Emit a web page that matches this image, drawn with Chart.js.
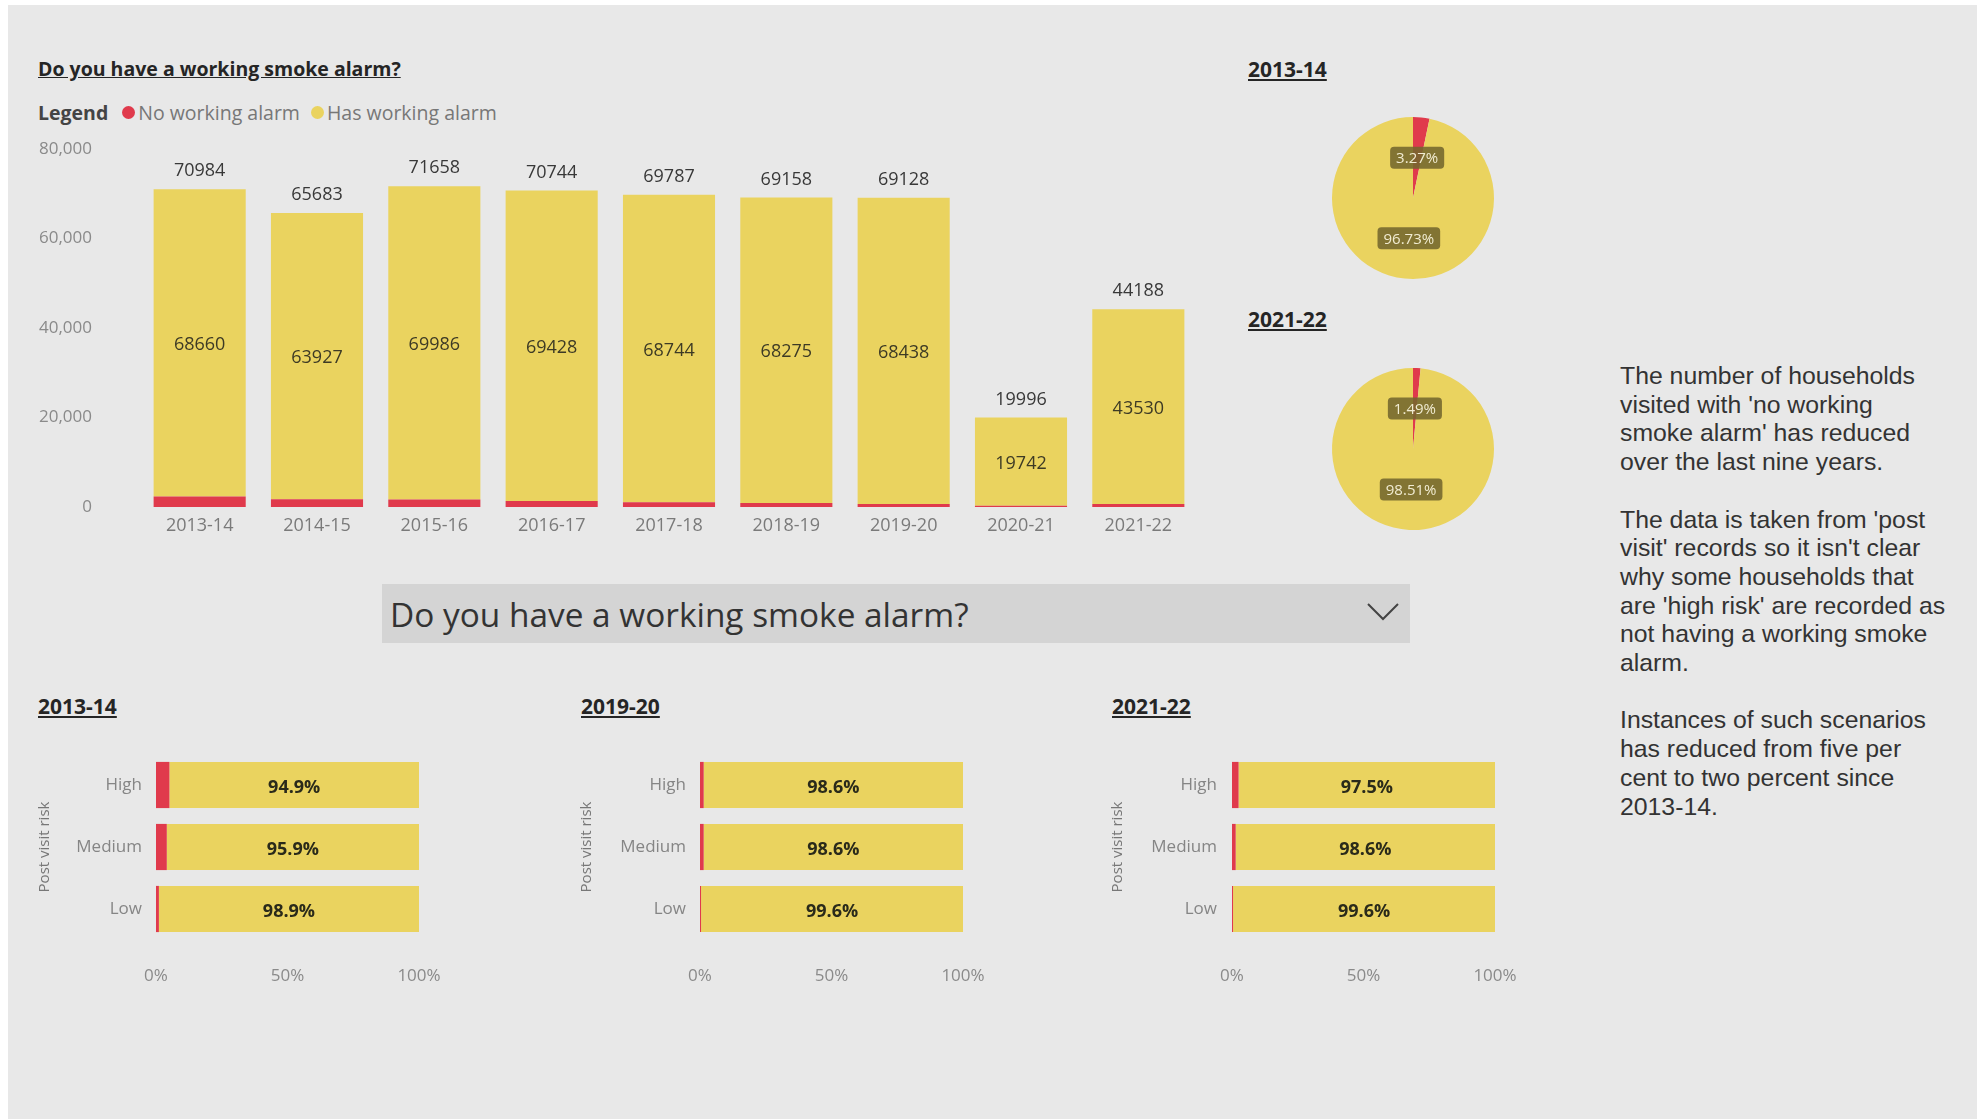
<!DOCTYPE html>
<html lang="en">
<head>
<meta charset="UTF-8">
<title>Do you have a working smoke alarm?</title>
<script src="https://cdn.jsdelivr.net/npm/chart.js"></script>
<style>
  body { margin: 0; background: #fff; font-family: "Open Sans", sans-serif; }
  #page { position: absolute; left: 8px; top: 5px; width: 1969px; height: 1114px; background: #e8e8e8; }
  .abs { position: absolute; }
  .head { font-weight: bold; font-size: 21px; color: #252525; text-decoration: underline; line-height: 26px; white-space: nowrap; }
  #legend { left: 38px; top: 100px; font-size: 19.5px; line-height: 26px; color: #777; white-space: nowrap; }
  #legend b { color: #444; margin-right: 14px; }
  .dot { display: inline-block; width: 13px; height: 13px; border-radius: 50%; margin-right: 3px; vertical-align: 1px; }
  #slicer { left: 382px; top: 584px; width: 1028px; height: 59px; background: #d4d4d4; }
  #slicer span { position: absolute; left: 8px; top: 9px; font-size: 33.4px; line-height: 42px; color: #333; white-space: nowrap; }
  #slicer svg { position: absolute; right: 10px; top: 18px; }
  #notes { left: 1620px; top: 362px; width: 350px; font-family: "Liberation Sans", Arial, sans-serif; font-size: 24.8px; line-height: 28.7px; color: #333; white-space: nowrap; }
  #notes p { margin: 0 0 28.7px 0; }
</style>
</head>
<body>
<div id="page"></div>

<div class="abs head" style="left:38px;top:56px;font-size:19.5px">Do you have a working smoke alarm?</div>
<div id="legend" class="abs"><b>Legend</b><span class="dot" style="background:#e03a4c"></span>No working alarm <span class="dot" style="background:#ead35f;margin-left:6px"></span>Has working alarm</div>
<div class="abs" style="left:20px;top:130px;width:1200px;height:420px"><canvas id="mainChart"></canvas></div>

<div class="abs head" style="left:1248px;top:56px">2013-14</div>
<div class="abs" style="left:1313px;top:98px;width:200px;height:200px"><canvas id="pie1"></canvas></div>
<div class="abs head" style="left:1248px;top:306px">2021-22</div>
<div class="abs" style="left:1313px;top:349px;width:200px;height:200px"><canvas id="pie2"></canvas></div>

<div id="slicer" class="abs"><span>Do you have a working smoke alarm?</span>
  <svg width="34" height="20" viewBox="0 0 34 20"><polyline points="2,2 17,17 32,2" fill="none" stroke="#444" stroke-width="2"/></svg>
</div>

<div class="abs head" style="left:38px;top:693px">2013-14</div>
<div class="abs head" style="left:581px;top:693px">2019-20</div>
<div class="abs head" style="left:1112px;top:693px">2021-22</div>
<div class="abs" style="left:30px;top:730px;width:420px;height:270px"><canvas id="risk1"></canvas></div>
<div class="abs" style="left:574px;top:730px;width:420px;height:270px"><canvas id="risk2"></canvas></div>
<div class="abs" style="left:1106px;top:730px;width:420px;height:270px"><canvas id="risk3"></canvas></div>

<div id="notes" class="abs">
  <p>The number of households<br>visited with 'no working<br>smoke alarm' has reduced<br>over the last nine years.</p>
  <p>The data is taken from 'post<br>visit' records so it isn't clear<br>why some households that<br>are 'high risk' are recorded as<br>not having a working smoke<br>alarm.</p>
  <p>Instances of such scenarios<br>has reduced from five per<br>cent to two percent since<br>2013-14.</p>
</div>

<script>
  // data
  const years = ["2013-14", "2014-15", "2015-16", "2016-17", "2017-18", "2018-19", "2019-20", "2020-21", "2021-22"];
  const totals = [70984, 65683, 71658, 70744, 69787, 69158, 69128, 19996, 44188];
  const hasAlarm = [68660, 63927, 69986, 69428, 68744, 68275, 68438, 19742, 43530];
  const noAlarm = [2324, 1756, 1672, 1316, 1043, 883, 690, 254, 658];
  const yTicks = [0, 20000, 40000, 60000, 80000];

  const pie1314 = [3.27, 96.73];
  const pie2122 = [1.49, 98.51];

  const riskLevels = ["High", "Medium", "Low"];
  const risk1314No = [5.1, 4.1, 1.1];
  const risk1314Has = [94.9, 95.9, 98.9];
  const risk1920No = [1.4, 1.4, 0.4];
  const risk1920Has = [98.6, 98.6, 99.6];
  const risk2122No = [2.5, 1.4, 0.4];
  const risk2122Has = [97.5, 98.6, 99.6];

  const RED = "#e03a4c";
  const YELLOW = "#ead35f";
  Chart.defaults.font.family = "'Open Sans', sans-serif";
  Chart.defaults.animation = false;
  Chart.defaults.plugins.legend.display = false;
  Chart.defaults.plugins.tooltip.enabled = false;

  // totals above the stack and the yellow value in the middle
  const stackLabels = {
    id: "stackLabels",
    afterDatasetsDraw(chart) {
      const ctx = chart.ctx;
      const yellowBars = chart.getDatasetMeta(1).data;
      ctx.save();
      ctx.textAlign = "center";
      ctx.textBaseline = "middle";
      ctx.font = "18px 'Open Sans', sans-serif";
      yellowBars.forEach((bar, i) => {
        ctx.fillStyle = "#383838";
        ctx.fillText(totals[i], bar.x, bar.y - 18);
        ctx.fillStyle = "#3d3a25";
        ctx.fillText(hasAlarm[i], bar.x, (bar.y + bar.base) / 2 + 2);
      });
      ctx.restore();
    }
  };

  new Chart(document.getElementById("mainChart"), {
    type: "bar",
    data: {
      labels: years,
      datasets: [
        { label: "No working alarm", data: noAlarm, backgroundColor: RED, barPercentage: 0.785, categoryPercentage: 1 },
        { label: "Has working alarm", data: hasAlarm, backgroundColor: YELLOW, barPercentage: 0.785, categoryPercentage: 1 }
      ]
    },
    options: {
      responsive: true,
      maintainAspectRatio: false,
      layout: { padding: { left: 0, right: 23, top: 19, bottom: 0 } },
      scales: {
        x: {
          stacked: true,
          grid: { display: false, drawTicks: false },
          border: { display: false },
          ticks: { color: "#7a7a7a", font: { size: 18 }, padding: 8 },
          afterFit(scale) { scale.height = 43; scale.paddingLeft = 0; scale.paddingRight = 0; }
        },
        y: {
          stacked: true,
          min: 0,
          max: 80000,
          afterBuildTicks(scale) { scale.ticks = yTicks.map(v => ({ value: v })); },
          grid: { display: false, drawTicks: false },
          border: { display: false },
          ticks: { color: "#8a8a8a", font: { size: 17 }, padding: 49 },
          afterFit(scale) { scale.width = 121; scale.paddingTop = 0; scale.paddingBottom = 0; }
        }
      }
    },
    plugins: [stackLabels]
  });

  // percentage tags on the pies
  const pieTags = {
    id: "pieTags",
    afterDatasetsDraw(chart) {
      const ctx = chart.ctx;
      const values = chart.data.datasets[0].data;
      ctx.save();
      ctx.font = "15px 'Open Sans', sans-serif";
      ctx.textAlign = "center";
      ctx.textBaseline = "middle";
      chart.getDatasetMeta(0).data.forEach((arc, i) => {
        const p = arc.getCenterPoint();
        const txt = values[i].toFixed(2) + "%";
        const w = ctx.measureText(txt).width + 12;
        ctx.fillStyle = "rgba(115, 102, 45, 0.88)";
        ctx.beginPath();
        ctx.roundRect(p.x - w / 2, p.y - 11, w, 22, 4);
        ctx.fill();
        ctx.fillStyle = "#f1ecd2";
        ctx.fillText(txt, p.x, p.y + 1);
      });
      ctx.restore();
    }
  };

  function drawPie(id, values) {
    new Chart(document.getElementById(id), {
      type: "pie",
      data: {
        labels: ["No working alarm", "Has working alarm"],
        datasets: [{ data: values, backgroundColor: [RED, YELLOW], borderWidth: 0 }]
      },
      options: {
        responsive: true,
        maintainAspectRatio: false,
        layout: { padding: 19 }
      },
      plugins: [pieTags]
    });
  }
  drawPie("pie1", pie1314);
  drawPie("pie2", pie2122);

  const riskLabels = {
    id: "riskLabels",
    afterDatasetsDraw(chart) {
      const ctx = chart.ctx;
      const values = chart.data.datasets[1].data;
      ctx.save();
      ctx.font = "bold 18px 'Open Sans', sans-serif";
      ctx.textAlign = "center";
      ctx.textBaseline = "middle";
      ctx.fillStyle = "#2a2a1a";
      chart.getDatasetMeta(1).data.forEach((bar, i) => {
        ctx.fillText(values[i].toFixed(1) + "%", (bar.x + bar.base) / 2, bar.y + 3);
      });
      ctx.restore();
    }
  };

  function drawRisk(id, noVals, hasVals, titlePad, tickPad) {
    new Chart(document.getElementById(id), {
      type: "bar",
      data: {
        labels: riskLevels,
        datasets: [
          { label: "No working alarm", data: noVals, backgroundColor: RED, barPercentage: 0.745, categoryPercentage: 1 },
          { label: "Has working alarm", data: hasVals, backgroundColor: YELLOW, barPercentage: 0.745, categoryPercentage: 1 }
        ]
      },
      options: {
        indexAxis: "y",
        responsive: true,
        maintainAspectRatio: false,
        layout: { padding: { left: 0, right: 31, top: 24, bottom: 0 } },
        scales: {
          x: {
            stacked: true,
            min: 0,
            max: 100,
            grid: { display: false, drawTicks: false },
            border: { display: false },
            ticks: { stepSize: 50, color: "#8a8a8a", font: { size: 17 }, padding: 26, callback: v => v + "%" },
            afterFit(scale) { scale.height = 60; scale.paddingLeft = 0; scale.paddingRight = 0; }
          },
          y: {
            stacked: true,
            grid: { display: false, drawTicks: false },
            border: { display: false },
            title: { display: true, text: "Post visit risk", color: "#777", font: { size: 15 }, padding: { top: titlePad, bottom: 0 } },
            ticks: { color: "#858585", font: { size: 17 }, padding: tickPad },
            afterFit(scale) { scale.width = 126; scale.paddingTop = 0; scale.paddingBottom = 0; }
          }
        }
      },
      plugins: [riskLabels]
    });
  }
  drawRisk("risk1", risk1314No, risk1314Has, 6, 14);
  drawRisk("risk2", risk1920No, risk1920Has, 4, 14);
  drawRisk("risk3", risk2122No, risk2122Has, 3, 15);
</script>
</body>
</html>
